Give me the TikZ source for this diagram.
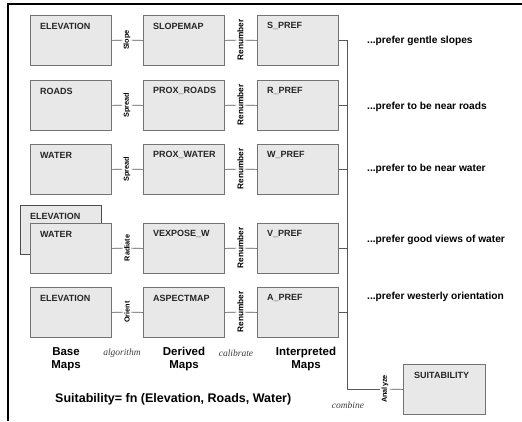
\documentclass[tikz,border=0pt]{standalone}
\usepackage{fontspec}
\setmainfont{Liberation Sans}
\newfontfamily\serifit{Liberation Serif}
\begin{document}
\begin{tikzpicture}[x=1pt,y=-1pt,
  mapbox/.style={draw=black!55, fill=black!9, line width=0.8pt, minimum width=81pt, minimum height=50pt, anchor=north west, inner sep=0pt},
  boxlbl/.style={font=\fontsize{9}{10}\selectfont\bfseries, text=black!85, anchor=west, inner sep=0pt},
  alg/.style={rotate=90, font=\fontsize{7.3}{8}\selectfont\bfseries, inner xsep=3pt, inner ysep=1pt},
  cal/.style={rotate=90, font=\fontsize{8.3}{9}\selectfont\bfseries, inner xsep=3pt, inner ysep=1pt},
  conn/.style={draw=black!65, line width=0.7pt},
  pref/.style={font=\fontsize{10.2}{11}\selectfont\bfseries, anchor=west, inner sep=0pt},
  head/.style={font=\fontsize{11.5}{13.5}\selectfont\bfseries, align=center, inner sep=0pt},
  note/.style={font=\fontsize{9.5}{10}\selectfont\serifit\itshape, text=black!75, inner sep=0pt}
]
\useasboundingbox (0,0) rectangle (522,421);
\fill[white] (0,0) rectangle (522,421);
% frame
\draw[line width=2pt] (8,421) -- (8,3.5) -- (522,3.5);

% back box
\node[mapbox, minimum height=49pt, draw=black!70] (eb) at (20,205) {};
\node[boxlbl] (ebt) at (30,216) {ELEVATION};

% rows
\foreach \r/\t/\a/\b/\c/\alg in {1/15/ELEVATION/SLOPEMAP/S\_PREF/Slope, 2/80/ROADS/PROX\_ROADS/R\_PREF/Spread, 3/144/WATER/PROX\_WATER/W\_PREF/Spread, 4/223/WATER/VEXPOSE\_W/V\_PREF/Radiate, 5/287/ELEVATION/ASPECTMAP/A\_PREF/Orient}{
  \node[mapbox] (b\r) at (30,\t) {};
  \node[boxlbl] (bt\r) at (40,\t+11) {\a};
  \node[mapbox] (d\r) at (143,\t) {};
  \node[boxlbl] (dt\r) at (153,\t+11) {\b};
  \node[mapbox] (p\r) at (257,\t) {};
  \node[boxlbl] (pt\r) at (267,\t+11) {\c};
  \node[alg] (ga\r) at (127,\t+25) {\alg};
  \node[cal] (gc\r) at (240.5,\t+25) {Renumber};
  \draw[conn] (b\r.east) -- (ga\r);
  \draw[conn] (ga\r) -- (d\r.west);
  \draw[conn] (d\r.east) -- (gc\r);
  \draw[conn] (gc\r) -- (p\r.west);
}

% bus
\coordinate (bt) at (347,40);
\coordinate (bb) at (347,389);
\foreach \r in {1,...,5}{
  \draw[conn] (p\r.east) -- (p\r.east -| bt);
}
\draw[conn] (bt) -- (bb);
\node[mapbox, minimum width=82pt] (suit) at (403,364) {};
\node[boxlbl] (suitt) at (414,375) {SUITABILITY};
\node[alg] (an) at (385,389) {Analyze};
\draw[conn] (bb) -- (an);
\draw[conn] (an) -- (suit.west);

% preference texts
\node[pref] (q1) at (367,41) {...prefer gentle slopes};
\node[pref] (q2) at (367,107) {...prefer to be near roads};
\node[pref] (q3) at (367,169) {...prefer to be near water};
\node[pref] (q4) at (367,240) {...prefer good views of water};
\node[pref] (q5) at (367,297) {...prefer westerly orientation};

% column headings
\node[head] (h1) at (66,359) {Base\\Maps};
\node[head] (h2) at (184,359) {Derived\\Maps};
\node[head] (h3) at (306,359) {Interpreted\\Maps};
\node[note] (n1) at (122,353) {algorithm};
\node[note] (n2) at (236,353) {calibrate};
\node[note] (n3) at (348,405) {combine};

\node[font=\fontsize{12.5}{14}\selectfont\bfseries, anchor=west, inner sep=0pt] (form) at (55,399) {Suitability= fn (Elevation, Roads, Water)};
\end{tikzpicture}
\end{document}
